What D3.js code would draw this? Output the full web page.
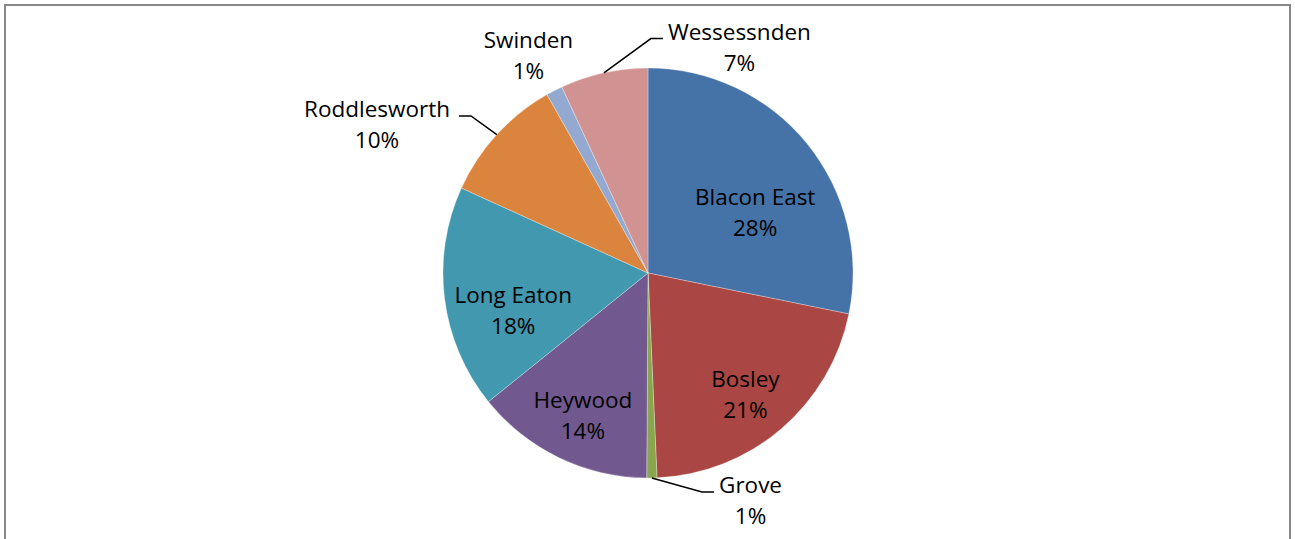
<!DOCTYPE html>
<html>
<head>
<meta charset="utf-8">
<script src="https://cdn.jsdelivr.net/npm/d3@7"></script>
<style>
  html, body { margin: 0; padding: 0; background: #fff; }
  svg { display: block; }
</style>
</head>
<body>
<script>
// slice names and shares (%)
const names = ["Blacon East", "Bosley", "Grove", "Heywood", "Long Eaton", "Roddlesworth", "Swinden", "Wessessnden"];
const shares = [28.2, 21.1, 0.8, 14.1, 17.6, 10.0, 1.3, 6.9];
const colors = ["#4572A7", "#AA4643", "#89A54E", "#71588F", "#4198AF", "#DB843D", "#93A9CF", "#D19392"];
const outside = ["Grove", "Roddlesworth", "Swinden", "Wessessnden"];
const withLeader = ["Grove", "Roddlesworth", "Wessessnden"];

const width = 1295, height = 539;
const cx = 648, cy = 273, radius = 205;
const lineGap = 31;

// fine label placement, like Excel's "best fit"
const nudge = {
  "Blacon East": [-9, 27],
  "Long Eaton": [14, 11],
  "Grove": [98, -20],
  "Roddlesworth": [-94, 6],
  "Swinden": [-10, -12],
  "Wessessnden": [143, 1]
};

const data = names.map((n, i) => ({name: n, value: shares[i], color: colors[i]}));
const total = d3.sum(shares);

const svg = d3.select("body").append("svg")
    .attr("width", width)
    .attr("height", height)
    .attr("viewBox", [0, 0, width, height]);

// chart frame
svg.append("rect")
    .attr("x", 5).attr("y", 5)
    .attr("width", 1285).attr("height", 600)
    .attr("fill", "none")
    .attr("stroke", "#888")
    .attr("stroke-width", 2);

const pie = d3.pie().sort(null).value(d => d.value);
const arcs = pie(data);
const arc = d3.arc().innerRadius(0).outerRadius(radius);
const inArc = d3.arc().innerRadius(150).outerRadius(150);
const outArc = d3.arc().innerRadius(240).outerRadius(240);
const edgeArc = d3.arc().innerRadius(radius).outerRadius(radius);

const g = svg.append("g").attr("transform", `translate(${cx},${cy})`);

g.selectAll("path.slice")
  .data(arcs)
  .join("path")
    .attr("class", "slice")
    .attr("d", arc)
    .attr("fill", d => d.data.color)
    .attr("stroke", "rgba(255,255,255,0.5)")
    .attr("stroke-width", 0.6);

const labelPos = d => {
  const p = outside.includes(d.data.name) ? outArc.centroid(d) : inArc.centroid(d);
  const n = nudge[d.data.name] || [0, 0];
  return [p[0] + n[0], p[1] + n[1]];
};

const labels = g.selectAll("text.lab")
  .data(arcs)
  .join("text")
    .attr("class", "lab")
    .attr("text-anchor", "middle")
    .attr("font-family", "'Open Sans', sans-serif")
    .attr("font-size", 22.5)
    .attr("fill", "#000")
    .attr("transform", d => `translate(${labelPos(d)})`);

labels.append("tspan").attr("x", 0).attr("y", 0).text(d => d.data.name);
labels.append("tspan").attr("x", 0).attr("y", lineGap)
    .text(d => Math.round(d.value / total * 100) + "%");

// leader lines: slice edge -> elbow -> beside the label
labels.filter(d => withLeader.includes(d.data.name)).each(function(d) {
  const [lx, ly] = labelPos(d);
  const w = this.querySelector("tspan").getComputedTextLength();
  const e = edgeArc.centroid(d);
  const toRight = lx > e[0];
  const endX = toRight ? lx - w / 2 - 5 : lx + w / 2 + 9;
  const elbowX = toRight ? endX - 12 : endX + 12;
  g.append("path")
    .attr("fill", "none")
    .attr("stroke", "#000")
    .attr("stroke-width", 1.5)
    .attr("d", d3.line()([e, [elbowX, ly - 1], [endX, ly - 1]]));
});
</script>
</body>
</html>
